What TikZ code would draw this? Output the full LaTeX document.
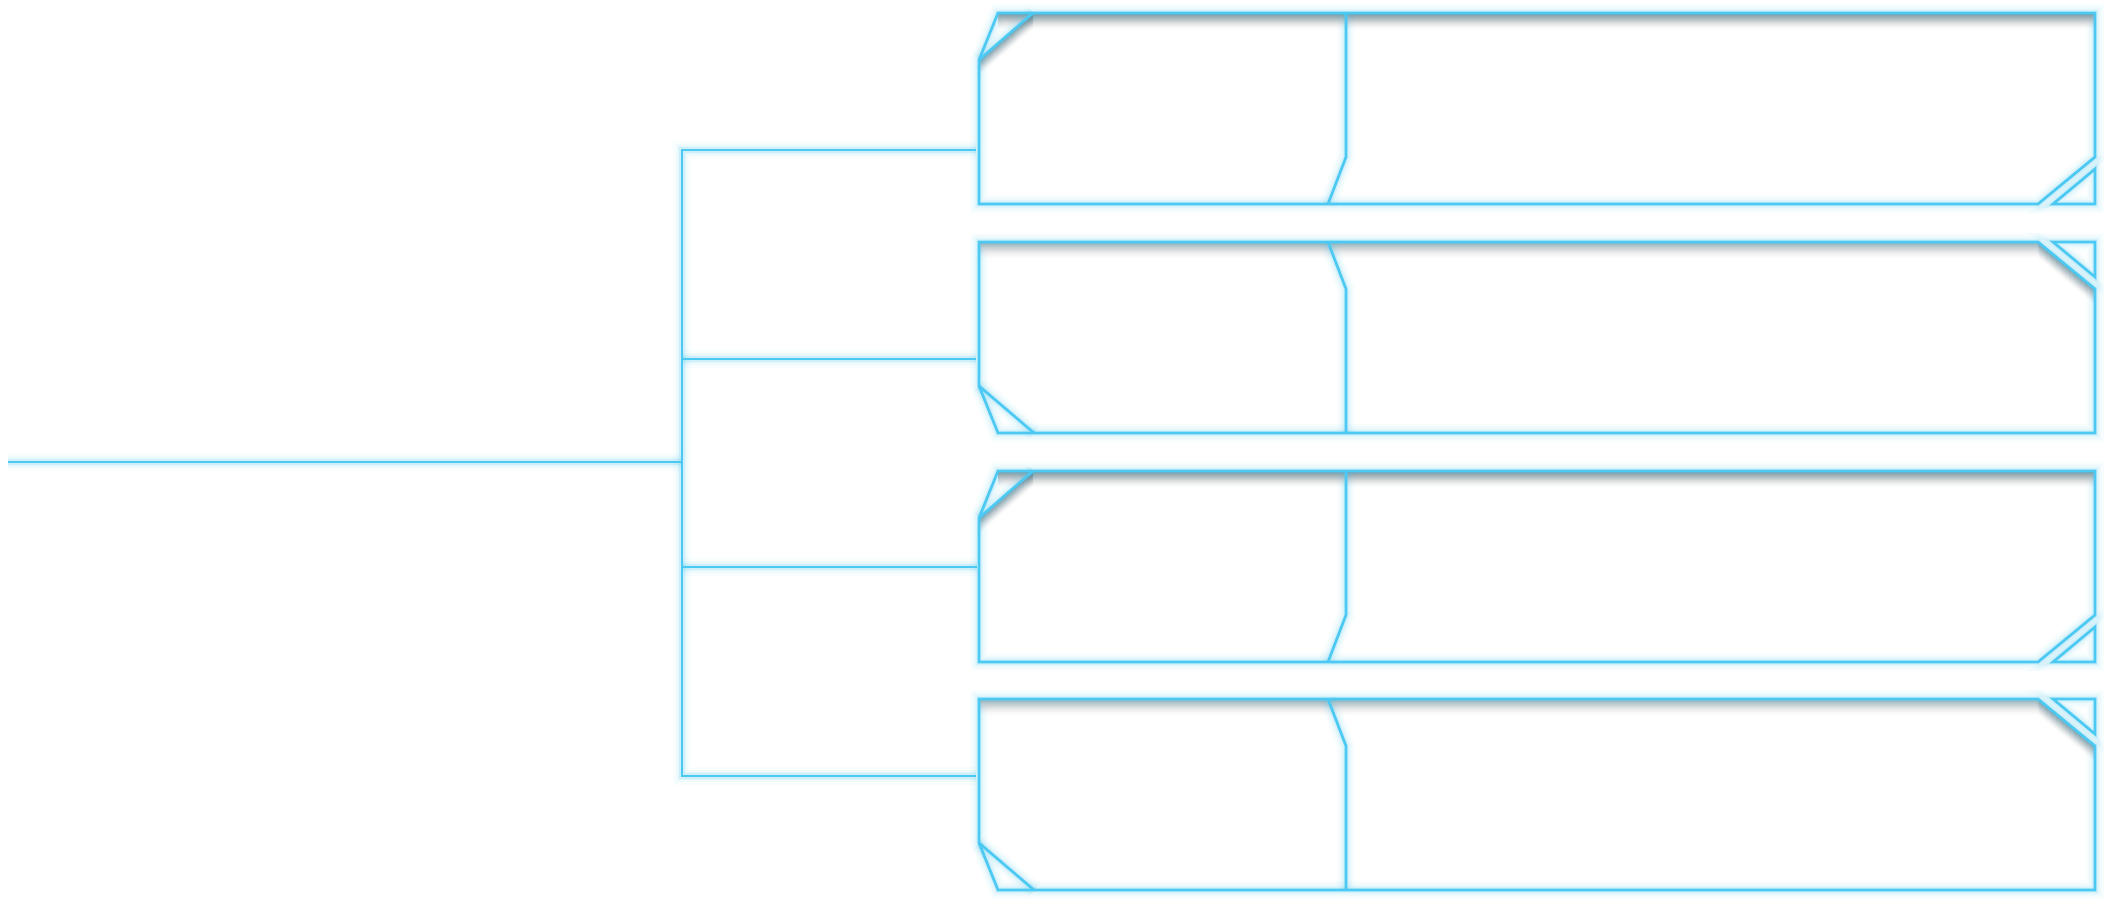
\documentclass[tikz,border=0pt]{standalone}
\usetikzlibrary{calc}
\definecolor{glowblue}{RGB}{76,201,242}
\definecolor{shadowcol}{RGB}{80,90,96}
\tikzset{
  glowline/.style={draw=glowblue, line width=0.75pt, line join=miter,
    preaction={draw=glowblue, opacity=0.035, line width=5pt},
    preaction={draw=glowblue, opacity=0.05, line width=3.6pt},
    preaction={draw=glowblue, opacity=0.08, line width=2.4pt},
    preaction={draw=glowblue, opacity=0.12, line width=1.5pt}},
}
% odd box: cut at top-left, divider slanted at bottom, triangle at bottom-right
\newcommand\oddbox[2]{%
  \coordinate (#2) at (979,#1+95);
  \begin{scope}
    \clip (998,#1) -- (2095,#1) -- (2095,#1+144) -- (2038,#1+191) -- (979,#1+191) -- (979,#1+47) -- cycle;
    \foreach \k in {1,...,16}{%
      \pgfmathsetmacro\op{0.46*(1-\k/17)^1.7}
      \draw[shadowcol, opacity=\op, line width=0.36pt, shift={(0,\k)}]
        (979,#1+47) -- (1033,#1);
      \draw[shadowcol, opacity=\op, line width=0.36pt, shift={(0,\k)}]
        (998,#1) -- (2095,#1);
    }
  \end{scope}
  \draw[glowline] (998,#1) -- (2095,#1) -- (2095,#1+144) -- (2038,#1+191) -- (979,#1+191) -- (979,#1+47) -- cycle;
  \draw[glowline] (979,#1+47) -- (1033,#1);
  \draw[glowline] (1346,#1) -- (1346,#1+144) -- (1328,#1+191);
  \draw[glowline] (2053,#1+191) -- (2095,#1+191) -- (2095,#1+156) -- cycle;
}
% even box: mirrored vertically
\newcommand\evenbox[2]{%
  \coordinate (#2) at (979,#1+95);
  \begin{scope}
    \clip (979,#1) -- (2038,#1) -- (2095,#1+47) -- (2095,#1+191) -- (998,#1+191) -- (979,#1+144) -- cycle;
    \foreach \k in {1,...,16}{%
      \pgfmathsetmacro\op{0.46*(1-\k/17)^1.7}
      \draw[shadowcol, opacity=\op, line width=0.36pt, shift={(0,\k)}]
        (979,#1) -- (2038,#1) -- (2095,#1+47);
    }
  \end{scope}
  \draw[glowline] (979,#1) -- (2038,#1) -- (2095,#1+47) -- (2095,#1+191) -- (998,#1+191) -- (979,#1+144) -- cycle;
  \draw[glowline] (979,#1+144) -- (1034,#1+191);
  \draw[glowline] (1328,#1) -- (1346,#1+47) -- (1346,#1+191);
  \draw[glowline] (2053,#1) -- (2095,#1) -- (2095,#1+35) -- cycle;
}
\begin{document}
\begin{tikzpicture}[x=0.01cm, y=-0.01cm]
  \useasboundingbox (0,0) rectangle (2108,904);
  \fill[white] (0,0) rectangle (2108,904);

  \oddbox{13}{boxA}
  \evenbox{242}{boxB}
  \oddbox{471}{boxC}
  \evenbox{699}{boxD}

  \coordinate (root) at (8,462);
  \coordinate (hub) at (682,462);
  \coordinate (t1) at (976,150);
  \coordinate (t2) at (976,359);
  \coordinate (t3) at (977,567);
  \coordinate (t4) at (976,776);

  \draw[glowline] (root) -- (hub);
  \draw[glowline] (t1) -| (hub);
  \draw[glowline] (t4) -| (hub);
  \draw[glowline] (t2) -- (t2 -| hub);
  \draw[glowline] (t3) -- (t3 -| hub);
\end{tikzpicture}
\end{document}
